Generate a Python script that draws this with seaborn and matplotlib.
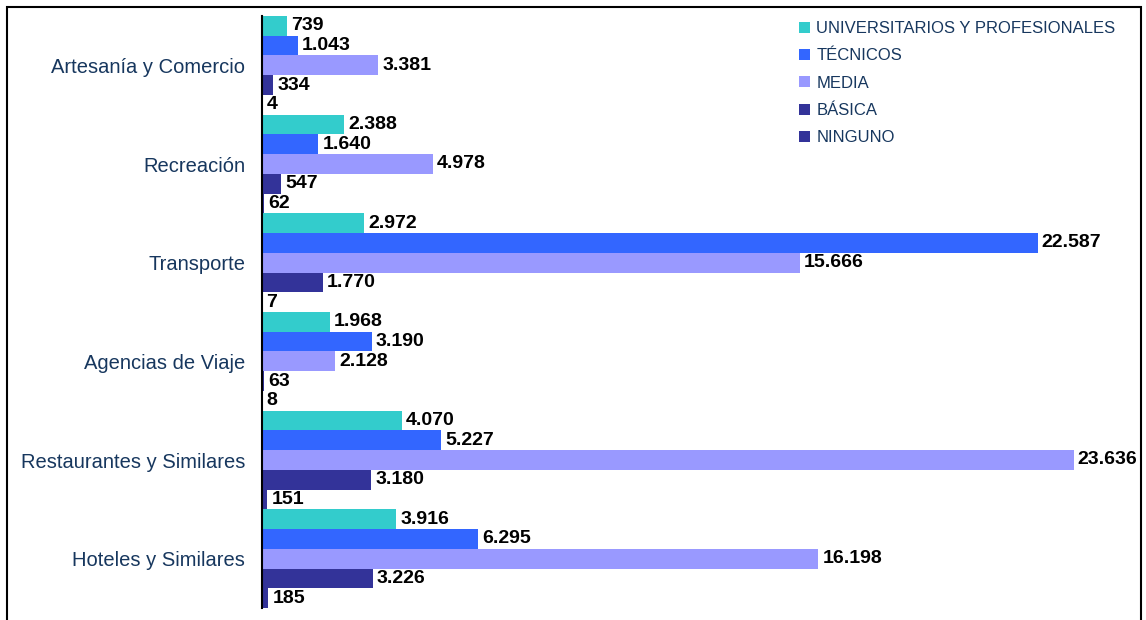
import numpy as np
import pandas as pd
import matplotlib
matplotlib.use("Agg")
import matplotlib.pyplot as plt
from matplotlib.patches import Patch, Rectangle
import seaborn as sns

# data
categories = ["Artesanía y Comercio", "Recreación", "Transporte",
              "Agencias de Viaje", "Restaurantes y Similares", "Hoteles y Similares"]
niveles = ["UNIVERSITARIOS Y PROFESIONALES", "TÉCNICOS", "MEDIA", "BÁSICA", "NINGUNO"]
universitarios = [739, 2388, 2972, 1968, 4070, 3916]
tecnicos = [1043, 1640, 22587, 3190, 5227, 6295]
media = [3381, 4978, 15666, 2128, 23636, 16198]
basica = [334, 547, 1770, 63, 3180, 3226]
ninguno = [4, 62, 7, 8, 151, 185]

colors = ["#33CCCC", "#3366FF", "#9999FF", "#333399", "#333399"]
text_blue = "#17375E"

rows = []
for nivel, vals in zip(niveles, [universitarios, tecnicos, media, basica, ninguno]):
    for cat, v in zip(categories, vals):
        rows.append({"categoria": cat, "nivel": nivel, "valor": v})
df = pd.DataFrame(rows)

sns.set_style("white")
plt.rcParams['font.family'] = ['Liberation Sans', 'DejaVu Sans']

fig = plt.figure(figsize=(11.46, 6.2), dpi=100)
W, H = 1146, 620
ax = fig.add_axes([262 / W, 1 - 608 / H, (1141 - 262) / W, (608 - 16) / H])

sns.barplot(data=df, y="categoria", x="valor", hue="nivel", orient="h",
            order=categories, hue_order=niveles, palette=colors,
            width=1.0, saturation=1, legend=False, linewidth=0, ax=ax)

ax.set_xlim(0, 25600)
ax.set_ylim(len(categories) - 0.5, -0.5)

# value labels with '.' thousands separator
for cont in ax.containers:
    ax.bar_label(cont, labels=[f"{v:,.0f}".replace(",", ".") for v in cont.datavalues],
                 padding=3, fontsize=14, fontweight="bold", color="black")

# axis styling (Excel-like: ticks between groups, labels centred)
for s in ["top", "right", "bottom"]:
    ax.spines[s].set_visible(False)
ax.spines["left"].set_color("black")
ax.spines["left"].set_linewidth(1.5)
ax.set_xticks([])
ax.set_xlabel("")
ax.set_ylabel("")
ax.tick_params(axis="y", which="major", length=0, pad=12, labelsize=14.5, labelcolor=text_blue)
ax.set_yticks(np.arange(-0.5, len(categories)), minor=True)
ax.tick_params(axis="y", which="minor", length=5, width=1, color="black", direction="out")

handles = [Patch(facecolor=c, edgecolor="none") for c in colors]
fig.legend(handles, niveles, loc="upper left", bbox_to_anchor=(784 / W, 1 - 6 / H),
           frameon=False, fontsize=12, labelcolor=text_blue,
           handlelength=0.65, handleheight=0.65, handletextpad=0.4, labelspacing=0.74)

# outer frame around the chart (bottom edge cut off like the reference)
fig.patches.append(Rectangle((7 / W, -0.05), (1141 - 7) / W, 1.05 - 7 / H,
                             transform=fig.transFigure, fill=False,
                             edgecolor="black", linewidth=1.5))

plt.savefig("out.png", dpi=100)
